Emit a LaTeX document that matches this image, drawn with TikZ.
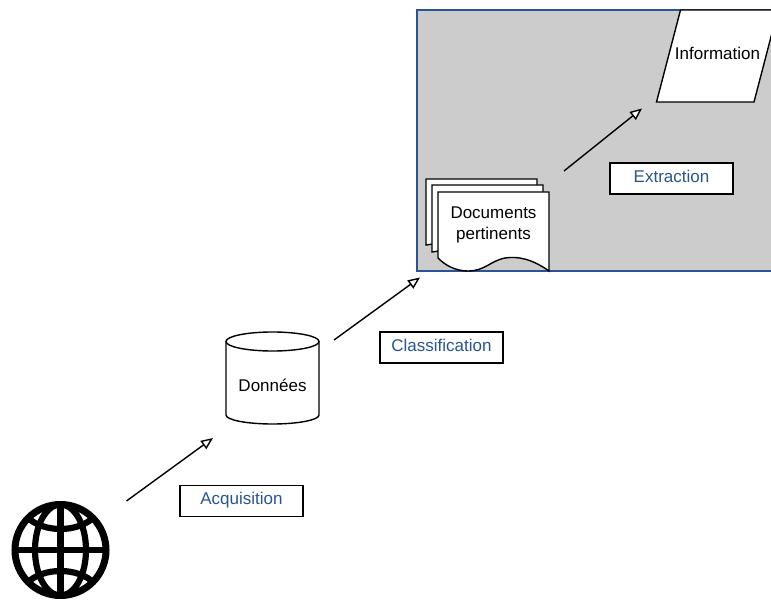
\documentclass[tikz,border=0pt]{standalone}
\usepackage{fontspec}
\setmainfont{Liberation Sans}
\usetikzlibrary{arrows.meta}
\definecolor{labelblue}{HTML}{2A5490}
\definecolor{panelgrey}{HTML}{CCCCCC}
\tikzset{
  x=1pt,y=-1pt,
  every node/.style={font=\fontsize{17}{20.5}\selectfont,text=black,inner sep=0pt},
  shapeline/.style={draw=black,line width=1.4pt,fill=white,line join=miter},
  flow/.style={draw=black,line width=1.4pt,-{Triangle[open,fill=white,length=12pt,width=10pt,line width=1.4pt]}},
  steplabel/.style={draw=black,line width=1.3pt,fill=white,minimum width=123pt,minimum height=31pt,text=labelblue,text height=12.5pt,text depth=5pt},
  globeline/.style={draw=black,line width=6.2pt}
}
\begin{document}
\begin{tikzpicture}
\useasboundingbox (0,0) rectangle (771,601);
% panel
\fill[panelgrey] (417,10) rectangle (790,271);
\draw[labelblue,line width=1.3pt] (790,10) -- (417,10) -- (417,271) -- (790,271);
% globe
\draw[globeline,line width=7pt] (60.5,550) circle[radius=45.5];
\draw[globeline] (60.5,505) -- (60.5,595);
\draw[globeline] (15,550) -- (106,550);
\draw[globeline] (60.5,550) ellipse[x radius=25.5,y radius=45.5];
\draw[globeline] (27,517) .. controls (43,533) and (78,533) .. (94,517);
\draw[globeline] (27,583) .. controls (43,567) and (78,567) .. (94,583);
% cylinder
\draw[shapeline] (226,341.5) -- (226,415) .. controls (226,420) and (247,424) .. (272.5,424) .. controls (298,424) and (319,420) .. (319,415) -- (319,341.5);
\draw[shapeline] (272.5,341.5) ellipse[x radius=46.5,y radius=9.5];
\node (donnees) at (272.5,385) {Données};
% documents
\draw[shapeline] (426,179) -- (537,179) -- (537,230) -- (426,245) -- cycle;
\draw[shapeline] (432,185) -- (543,185) -- (543,236) -- (432,252) -- cycle;
\draw[shapeline] (438,192) -- (549,192) -- (549,271) .. controls (532,259) and (518,256) .. (505,258) .. controls (490,261) and (485,271) .. (468,271) .. controls (455,271) and (445,265) .. (438,258) -- cycle;
\node[align=center] (docs) at (493.5,225) {Documents\\pertinents};
% information
\draw[shapeline] (680.5,10) -- (778,10) -- (754,102) -- (656.5,102) -- cycle;
\node (info) at (717.5,53.5) {Information};
% labels
\node[steplabel] (acq) at (241.5,501) {Acquisition};
\node[steplabel] (cla) at (441.5,347.5) {Classification};
\node[steplabel] (ext) at (671.5,178.5) {Extraction};
% connectors
\coordinate (a1) at (126.5,501);
\coordinate (a2) at (213,438);
\coordinate (b1) at (334,340);
\coordinate (b2) at (420,277.5);
\coordinate (c1) at (564,171);
\coordinate (c2) at (642,108.5);
\draw[flow] (a1) -- (a2);
\draw[flow] (b1) -- (b2);
\draw[flow] (c1) -- (c2);
\end{tikzpicture}
\end{document}
